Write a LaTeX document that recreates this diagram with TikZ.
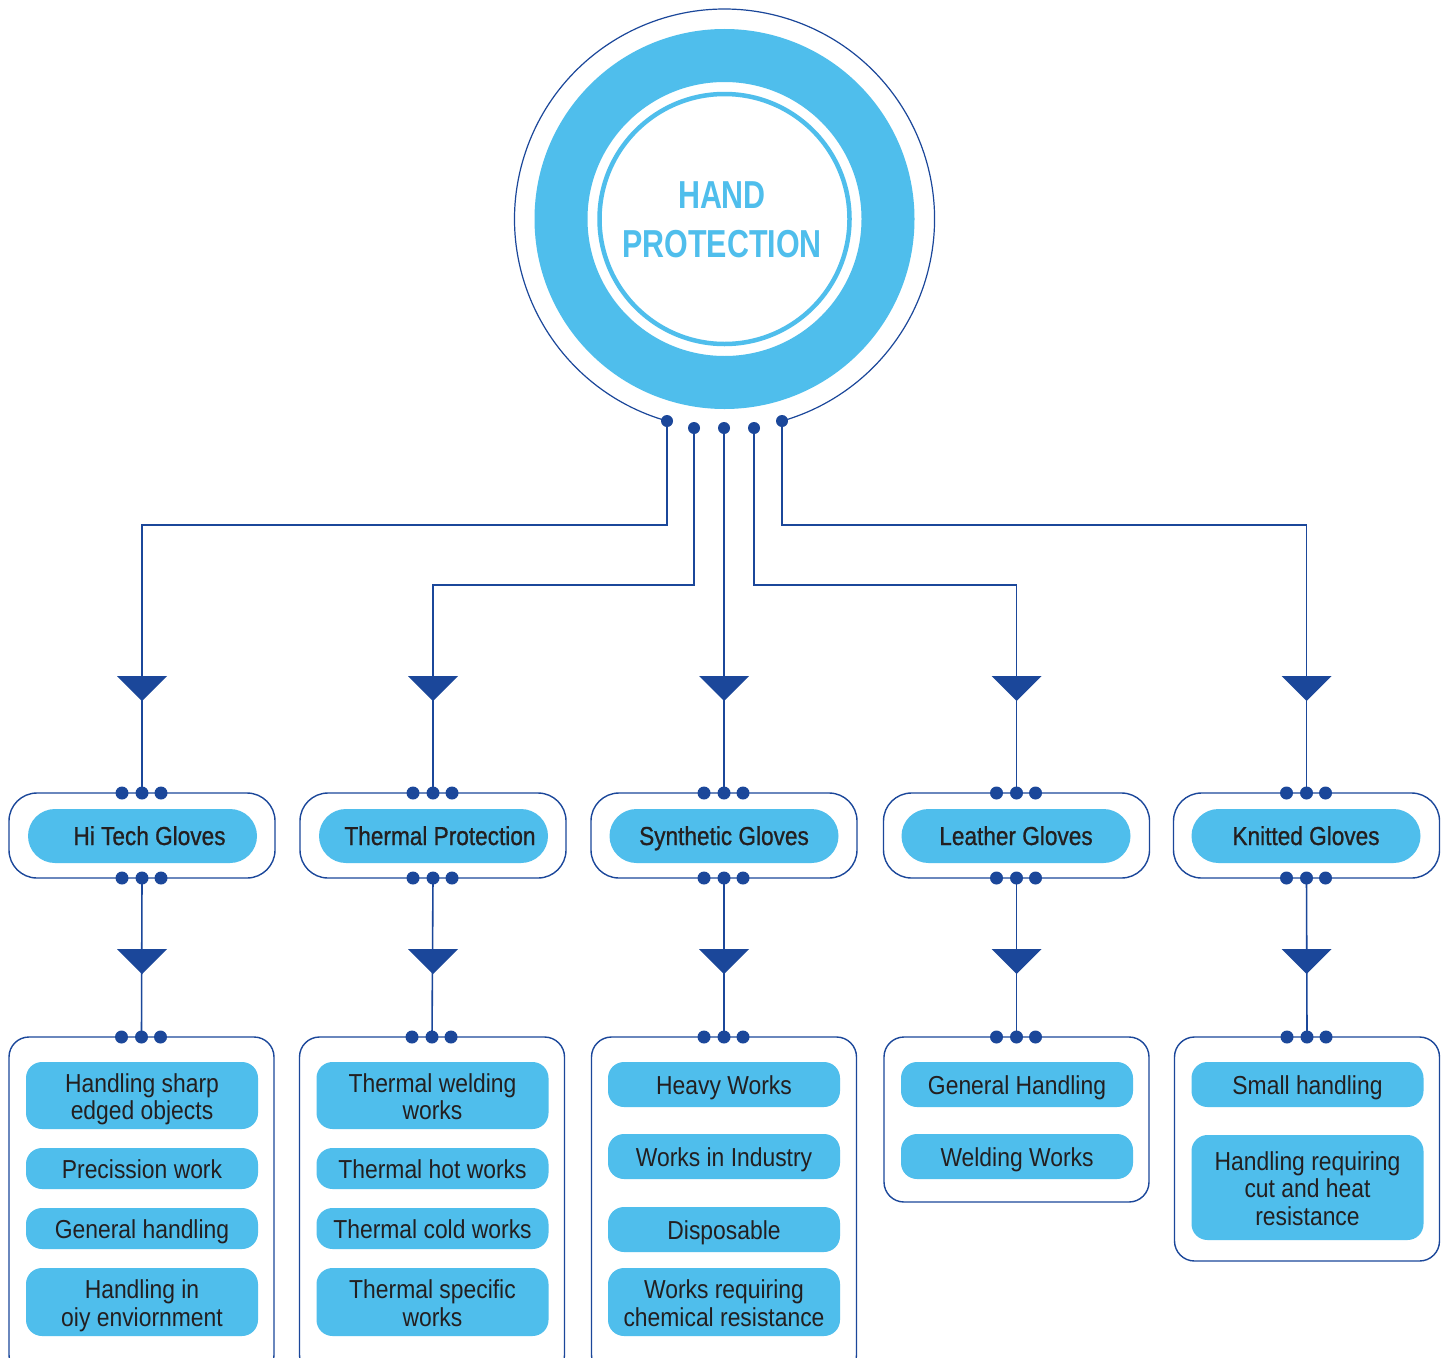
\documentclass[tikz,border=0pt]{standalone}
\usepackage{fontspec}
\setmainfont{Liberation Sans}[FakeStretch=0.88]
\newfontfamily\titlefont{Liberation Sans}[FakeStretch=0.78]
\newfontfamily\catfont{Liberation Sans}[FakeStretch=0.87,FakeBold=0.8]
\usetikzlibrary{calc}
\definecolor{lblue}{HTML}{4FBEEC}
\definecolor{dblue}{HTML}{1B479A}
\definecolor{txt}{HTML}{231F20}
\newcommand\tp{\rule{0pt}{26pt}}
\newcommand\bt{\rule[-5.5pt]{0pt}{5.5pt}}
\begin{document}
\begin{tikzpicture}[x=1pt,y=-1pt,
 conn/.style={draw=dblue,line width=1.6pt},
 dot/.style={circle,fill=dblue,inner sep=0pt,minimum size=13pt},
 catbox/.style={draw=dblue,line width=1.4pt,rounded corners=28pt,minimum width=266pt,minimum height=85pt,inner sep=0pt,outer sep=0pt,fill=white},
 catpill/.style={fill=lblue,rounded corners=27pt,minimum width=229pt,minimum height=54pt,inner sep=0pt,text=txt,text height=18pt,text depth=0pt,font=\catfont\fontsize{26}{28}\selectfont},
 container/.style={draw=dblue,line width=1.4pt,rounded corners=20pt,minimum width=265pt,inner sep=0pt,outer sep=0pt},
 item/.style={fill=lblue,rounded corners=16pt,minimum width=232pt,inner sep=0pt,align=center,text=txt,font=\fontsize{26}{27.5}\selectfont},
 tri/.style={fill=dblue}
]
\useasboundingbox (0,0) rectangle (1442,1357);
\clip (0,0) rectangle (1442,1357);
\fill[white] (0,0) rectangle (1442,1357);

% hub
\coordinate (hc) at (724.5,219);
\draw[lblue,line width=53pt] (hc) circle[radius=163.5];
\draw[lblue,line width=4.5pt] (hc) circle[radius=125];
\node[align=center,text=lblue,font=\titlefont\bfseries\fontsize{39}{49}\selectfont] (hub) at (722,220) {HAND\\PROTECTION};
\coordinate (h1) at (667,421);
\coordinate (h2) at (694,428);
\coordinate (h3) at (724,428);
\coordinate (h4) at (754,428);
\coordinate (h5) at (782,421);
\draw[dblue,line width=1.2pt] (h1) arc[start angle=105.9,end angle=434.1,radius=210];

% category boxes
\node[catbox] (cat1) at (142,835.5) {};
\node[catbox] (cat2) at (433,835.5) {};
\node[catbox] (cat3) at (724,835.5) {};
\node[catbox] (cat4) at (1016.5,835.5) {};
\node[catbox] (cat5) at (1306.5,835.5) {};
\node[catpill] (p1) at (142.5,836) {\hspace*{14pt}Hi Tech Gloves};
\node[catpill] (p2) at (433.5,836) {\hspace*{13pt}Thermal Protection};
\node[catpill] (p3) at (724,836) {Synthetic Gloves};
\node[catpill] (p4) at (1016,836) {Leather Gloves};
\node[catpill] (p5) at (1306,836) {Knitted Gloves};

% bottom containers
\node[container,minimum height=338pt] (box1) at (141.5,1206) {};
\node[container,minimum height=338pt] (box2) at (432,1206) {};
\node[container,minimum height=338pt] (box3) at (724,1206) {};
\node[container,minimum height=165pt] (box4) at (1016.5,1119.5) {};
\node[container,minimum height=224pt] (box5) at (1307,1149) {};

% connectors hub -> categories
\draw[conn] (h1) -- (h1 |- 0,525) -| (cat1.north);
\draw[conn] (h2) -- (h2 |- 0,585) -| (cat2.north);
\draw[conn] (h3) -- (cat3.north);
\draw[conn] (h4) -- (h4 |- 0,585) -| (cat4.north);
\draw[conn] (h5) -- (h5 |- 0,525) -| (cat5.north);
% connectors categories -> containers
\draw[conn] (cat1.south) -- (box1.north);
\draw[conn] (cat2.south) -- (box2.north);
\draw[conn] (cat3.south) -- (box3.north);
\draw[conn] (cat4.south) -- (box4.north);
\draw[conn] (cat5.south) -- (box5.north);

% triangles and dots
\foreach \c in {cat1,cat2,cat3,cat4,cat5}{
  \fill[tri] ($(\c.north)+(-25,-117)$) -- ++(50,0) -- ++(-25,25) -- cycle;
  \fill[tri] ($(\c.south)+(-25,71)$) -- ++(50,0) -- ++(-25,25) -- cycle;
  \foreach \dx in {-20,0,19}{
    \node[dot] at ($(\c.north)+(\dx,0)$) {};
    \node[dot] at ($(\c.south)+(\dx,0)$) {};
  }
}
\foreach \b in {box1,box2,box3,box4,box5}{
  \foreach \dx in {-20,0,19}{
    \node[dot] at ($(\b.north)+(\dx,0)$) {};
  }
}
\foreach \h in {h1,h2,h3,h4,h5}{
  \node[dot,minimum size=12pt] at (\h) {};
}

% items column 1
\node[item,minimum height=67pt] (i11) at (142,1095.5) {\tp Handling sharp\\edged objects\bt};
\node[item,minimum height=41pt] (i12) at (142,1168.5) {\tp Precission work\bt};
\node[item,minimum height=41pt] (i13) at (142,1228.5) {\tp General handling\bt};
\node[item,minimum height=68pt] (i14) at (142,1302) {\tp Handling in\\oiy enviornment\bt};
% column 2
\node[item,minimum height=67pt] (i21) at (432.5,1095.5) {\tp Thermal welding\\works\bt};
\node[item,minimum height=41pt] (i22) at (432.5,1168.5) {\tp Thermal hot works\bt};
\node[item,minimum height=41pt] (i23) at (432.5,1228.5) {\tp Thermal cold works\bt};
\node[item,minimum height=68pt] (i24) at (432.5,1302) {\tp Thermal specific\\works\bt};
% column 3
\node[item,minimum height=45pt] (i31) at (724,1084.5) {\tp Heavy Works\bt};
\node[item,minimum height=45pt] (i32) at (724,1156.5) {\tp Works in Industry\bt};
\node[item,minimum height=45pt] (i33) at (724,1229.5) {\tp Disposable\bt};
\node[item,minimum height=68pt] (i34) at (724,1302) {\tp Works requiring\\chemical resistance\bt};
% column 4
\node[item,minimum height=45pt] (i41) at (1017,1084.5) {\tp General Handling\bt};
\node[item,minimum height=45pt] (i42) at (1017,1156.5) {\tp Welding Works\bt};
% column 5
\node[item,minimum height=45pt] (i51) at (1307.5,1084.5) {\tp Small handling\bt};
\node[item,minimum height=105pt] (i52) at (1307.5,1187.5) {\tp Handling requiring\\cut and heat\\resistance\bt};
\end{tikzpicture}
\end{document}
